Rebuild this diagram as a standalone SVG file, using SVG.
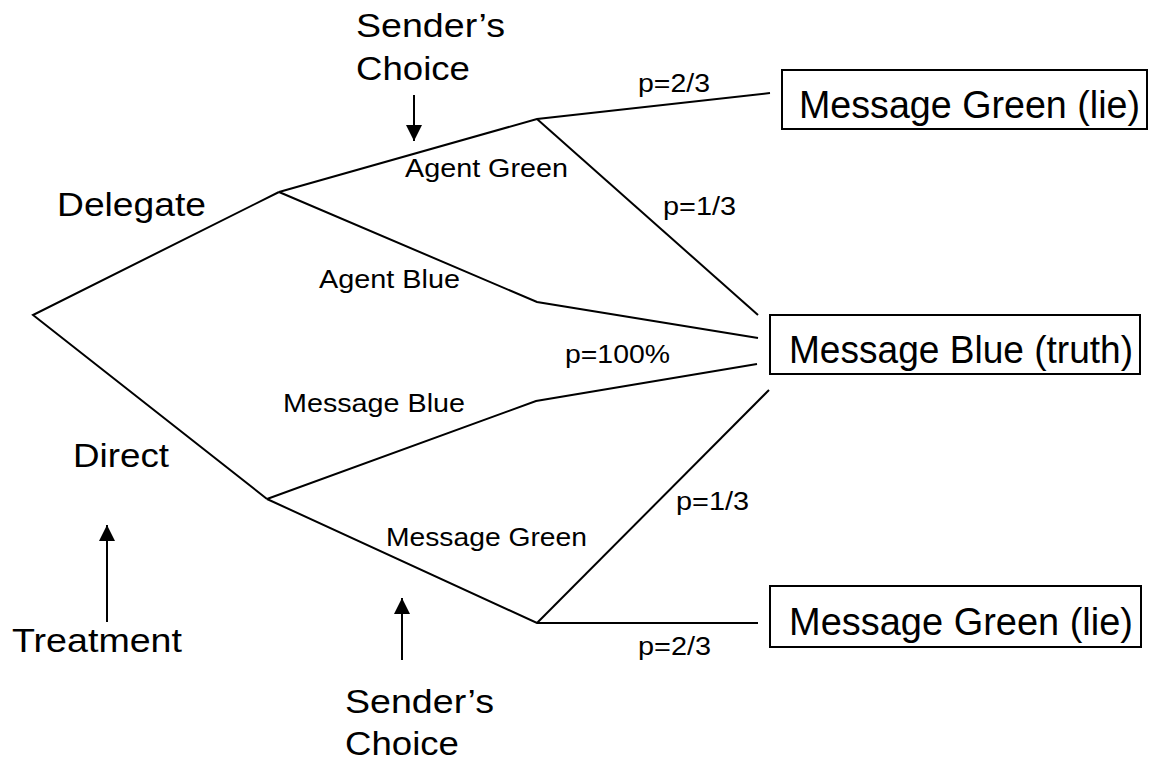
<svg xmlns="http://www.w3.org/2000/svg" width="1151" height="765" viewBox="0 0 1151 765">
  <style>
    .edge { fill: none; stroke: #000; stroke-width: 2; stroke-linejoin: miter; }
    .box { fill: #fff; stroke: #000; stroke-width: 2; }
    .t { font-family: "Liberation Sans", Arial, sans-serif; fill: #000; }
    .big { font-size: 33px; }
    .small { font-size: 25px; }
    .boxtxt { font-size: 38px; }
    .ptr { stroke: #000; stroke-width: 2; fill: none; }
  </style>
  <defs>
    <marker id="head" viewBox="0 0 10 10" refX="10" refY="5" markerWidth="8" markerHeight="8" markerUnits="strokeWidth" orient="auto">
      <path d="M0,0 L10,5 L0,10 Z" fill="#000"/>
    </marker>
  </defs>
  <rect width="1151" height="765" fill="#fff"/>

  <!-- tree branches -->
  <g id="connectors">
    <polyline class="edge" points="279,192 33,315 267,499"/>
    <polyline class="edge" points="279,192 537,119 770,93"/>
    <line class="edge" x1="537" y1="119" x2="758" y2="315"/>
    <polyline class="edge" points="279,192 537,302 758,338"/>
    <polyline class="edge" points="267,499 536,401 757,364"/>
    <polyline class="edge" points="267,499 537,623 758,623"/>
    <line class="edge" x1="537" y1="623" x2="769" y2="390"/>
    <!-- pointer arrows -->
    <line class="ptr" x1="414" y1="95" x2="414" y2="141" marker-end="url(#head)"/>
    <line class="ptr" x1="107" y1="622" x2="107" y2="525" marker-end="url(#head)"/>
    <line class="ptr" x1="402" y1="660" x2="402" y2="598" marker-end="url(#head)"/>
  </g>

  <!-- outcome boxes -->
  <g id="out-green-top">
    <rect class="box" x="782" y="70" width="365" height="59"/>
    <text class="t boxtxt" x="799" y="118" textLength="341" lengthAdjust="spacingAndGlyphs">Message Green (lie)</text>
  </g>
  <g id="out-blue">
    <rect class="box" x="770" y="315" width="370" height="59"/>
    <text class="t boxtxt" x="789" y="363" textLength="344" lengthAdjust="spacingAndGlyphs">Message Blue (truth)</text>
  </g>
  <g id="out-green-bottom">
    <rect class="box" x="770" y="586" width="371" height="61"/>
    <text class="t boxtxt" x="789" y="635" textLength="344" lengthAdjust="spacingAndGlyphs">Message Green (lie)</text>
  </g>

  <!-- decision labels -->
  <g id="lbl-delegate"><text class="t big" x="57" y="216" textLength="149" lengthAdjust="spacingAndGlyphs">Delegate</text></g>
  <g id="lbl-direct"><text class="t big" x="73" y="467" textLength="96" lengthAdjust="spacingAndGlyphs">Direct</text></g>
  <g id="lbl-treatment"><text class="t big" x="12" y="652" textLength="170" lengthAdjust="spacingAndGlyphs">Treatment</text></g>
  <g id="lbl-sender-top">
    <text class="t big" x="356" y="37" textLength="149" lengthAdjust="spacingAndGlyphs">Sender’s</text>
    <text class="t big" x="356" y="80" textLength="114" lengthAdjust="spacingAndGlyphs">Choice</text>
  </g>
  <g id="lbl-sender-bottom">
    <text class="t big" x="345" y="713" textLength="149" lengthAdjust="spacingAndGlyphs">Sender’s</text>
    <text class="t big" x="345" y="755" textLength="114" lengthAdjust="spacingAndGlyphs">Choice</text>
  </g>

  <!-- branch labels -->
  <g id="lbl-agent-green"><text class="t small" x="405" y="177" textLength="163" lengthAdjust="spacingAndGlyphs">Agent Green</text></g>
  <g id="lbl-agent-blue"><text class="t small" x="319" y="288" textLength="141" lengthAdjust="spacingAndGlyphs">Agent Blue</text></g>
  <g id="lbl-msg-blue"><text class="t small" x="283" y="412" textLength="182" lengthAdjust="spacingAndGlyphs">Message Blue</text></g>
  <g id="lbl-msg-green"><text class="t small" x="386" y="546" textLength="201" lengthAdjust="spacingAndGlyphs">Message Green</text></g>

  <!-- probabilities -->
  <g id="p-top-23"><text class="t small" x="638" y="92" textLength="72" lengthAdjust="spacingAndGlyphs">p=2/3</text></g>
  <g id="p-top-13"><text class="t small" x="663" y="215" textLength="73" lengthAdjust="spacingAndGlyphs">p=1/3</text></g>
  <g id="p-100"><text class="t small" x="565" y="363" textLength="105" lengthAdjust="spacingAndGlyphs">p=100%</text></g>
  <g id="p-bot-13"><text class="t small" x="676" y="510" textLength="73" lengthAdjust="spacingAndGlyphs">p=1/3</text></g>
  <g id="p-bot-23"><text class="t small" x="638" y="655" textLength="73" lengthAdjust="spacingAndGlyphs">p=2/3</text></g>
</svg>
